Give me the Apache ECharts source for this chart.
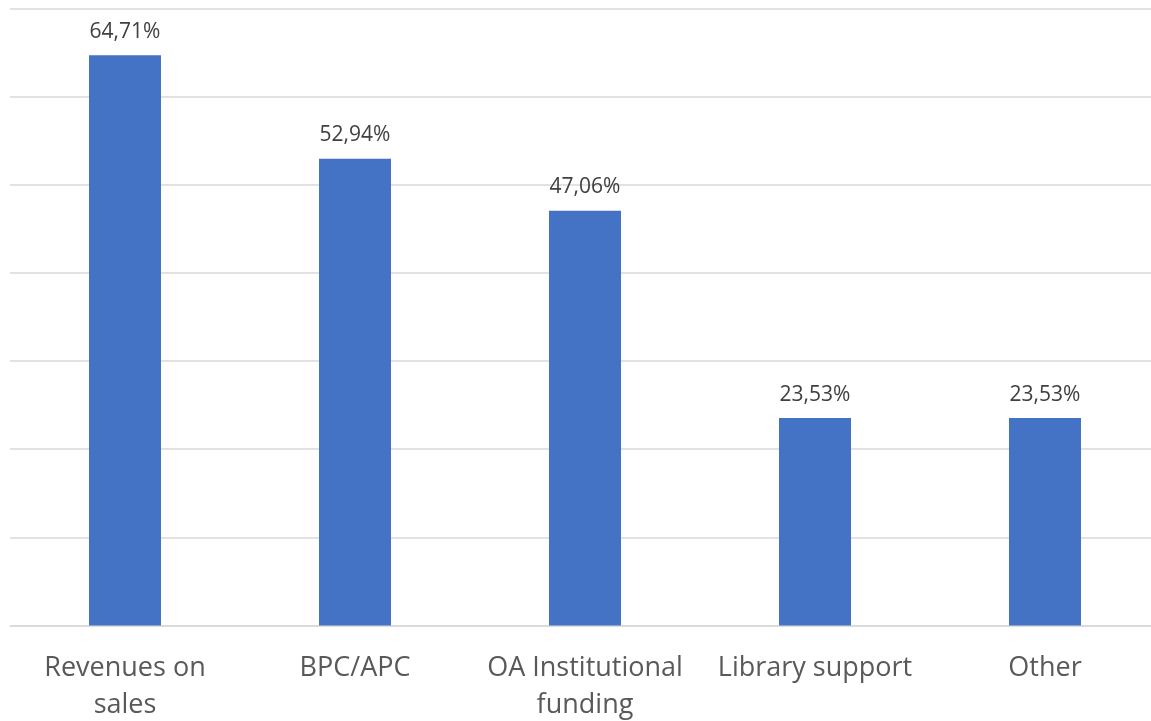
<!DOCTYPE html>
<html>
<head>
<meta charset="utf-8">
<script src="https://cdn.jsdelivr.net/npm/echarts@6/dist/echarts.min.js"></script>
<style>
html,body{margin:0;padding:0;background:#fff;}
#chart{width:1151px;height:721px;}
</style>
</head>
<body>
<div id="chart"></div>
<script>
const categories = ["Revenues on\nsales", "BPC/APC", "OA Institutional\nfunding", "Library support", "Other"];
const values = [64.71, 52.94, 47.06, 23.53, 23.53];
const yTicks = { min: 0, max: 70, interval: 10 };

const chart = echarts.init(document.getElementById('chart'), null, { renderer: 'canvas' });
chart.setOption({
  animation: false,
  backgroundColor: '#ffffff',
  grid: { left: 10, right: -9, top: 8.5, bottom: 95.5, containLabel: false, outerBoundsMode: 'none' },
  xAxis: {
    type: 'category',
    data: categories,
    axisLine: { lineStyle: { color: '#D9D9D9', width: 1.5 } },
    axisTick: { show: false },
    axisLabel: {
      interval: 0,
      color: '#595959',
      fontFamily: 'Open Sans',
      fontSize: 27,
      lineHeight: 37,
      margin: 24
    }
  },
  yAxis: {
    type: 'value',
    min: yTicks.min,
    max: yTicks.max,
    interval: yTicks.interval,
    axisLabel: { show: false },
    axisLine: { show: false },
    axisTick: { show: false },
    splitLine: { lineStyle: { color: '#D9D9D9', width: 1.5 } }
  },
  series: [{
    type: 'bar',
    data: values,
    barWidth: 72,
    itemStyle: { color: '#4472C4' },
    label: {
      show: true,
      position: 'top',
      distance: 13,
      color: '#404040',
      fontFamily: 'Open Sans',
      fontSize: 21,
      formatter: p => p.value.toFixed(2).replace('.', ',') + '%'
    }
  }]
});
</script>
</body>
</html>
